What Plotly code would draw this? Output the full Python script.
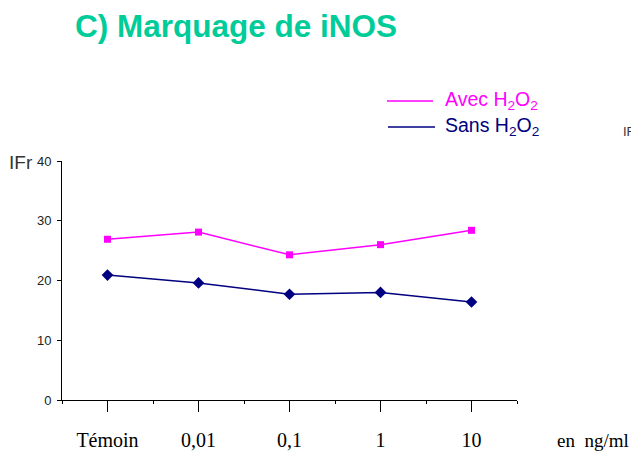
import plotly.graph_objects as go

# Concentrations (category axis) and iNOS immunofluorescence values
categories = ["Témoin", "0,01", "0,1", "1", "10"]
avec_h2o2 = [26.9, 28.1, 24.3, 26.0, 28.4]
sans_h2o2 = [20.9, 19.6, 17.7, 18.0, 16.4]
series_names = ["Avec H<sub>2</sub>O<sub>2</sub>", "Sans H<sub>2</sub>O<sub>2</sub>"]
y_ticks = [0, 10, 20, 30, 40]

MAGENTA = "#FF00FF"
NAVY = "#000080"

W, H = 631, 452
L, R, T, B = 62, 114, 161, 52
PW, PH = W - L - R, H - T - B


def px(x):
    return (x - L) / PW


def py(y):
    return (H - B - y) / PH


xs = list(range(len(categories)))

fig = go.Figure()
fig.add_trace(go.Scatter(
    x=xs, y=avec_h2o2, mode="lines+markers", name=series_names[0],
    line=dict(color=MAGENTA, width=1.5),
    marker=dict(symbol="square", size=7, color=MAGENTA),
    showlegend=False, cliponaxis=False,
))
fig.add_trace(go.Scatter(
    x=xs, y=sans_h2o2, mode="lines+markers", name=series_names[1],
    line=dict(color=NAVY, width=1.5),
    marker=dict(symbol="diamond", size=9, color=NAVY),
    showlegend=False, cliponaxis=False,
))

fig.update_layout(
    width=W, height=H,
    margin=dict(l=L, r=R, t=T, b=B, pad=0, autoexpand=False),
    paper_bgcolor="white", plot_bgcolor="white",
    title=dict(
        text="<b>C) Marquage de iNOS</b>",
        font=dict(family="Arial, Liberation Sans", size=31.5, color="#00CC99"),
        x=75 / W, xanchor="left", xref="container",
        y=1 - 26 / H, yanchor="middle",
    ),
    xaxis=dict(
        range=[-0.5, len(categories) - 0.5],
        tickmode="array", tickvals=xs, ticktext=categories,
        ticks="outside", ticklen=11, tickwidth=1, tickcolor="black",
        showline=True, linecolor="black", linewidth=1,
        showgrid=False, zeroline=False, automargin=False,
        tickfont=dict(family="Liberation Serif, Times New Roman", size=20, color="black"),
        ticklabelstandoff=11,
        minor=dict(tick0=0.5, dtick=1, ticks="outside", ticklen=3,
                   tickwidth=1, tickcolor="black", showgrid=False),
    ),
    yaxis=dict(
        range=[0, 40],
        tickmode="array", tickvals=y_ticks,
        ticks="outside", ticklen=4, tickwidth=1, tickcolor="black",
        showline=True, linecolor="black", linewidth=1,
        showgrid=False, zeroline=False, automargin=False,
        tickfont=dict(family="Arial, Liberation Sans", size=13, color="#222222"),
        ticklabelstandoff=3,
    ),
)

# Legend drawn as line samples with coloured labels
legend_colors = [MAGENTA, NAVY]
legend_rows = [(387, 433, 101), (388, 435, 127)]
for name, color, (x0, x1, yy) in zip(series_names, legend_colors, legend_rows):
    fig.add_shape(type="line", xref="paper", yref="paper",
                  x0=px(x0), x1=px(x1), y0=py(yy), y1=py(yy),
                  line=dict(color=color, width=1.5))
    fig.add_annotation(text=name, xref="paper", yref="paper",
                       x=px(443), y=py(yy - 1), xanchor="left", yanchor="middle",
                       showarrow=False,
                       font=dict(family="Arial, Liberation Sans", size=19.5, color=color))

# Axis captions
fig.add_annotation(text="IFr", xref="paper", yref="paper",
                   x=px(7), y=py(162), xanchor="left", yanchor="middle",
                   showarrow=False,
                   font=dict(family="Arial, Liberation Sans", size=19, color="#333333"))
fig.add_annotation(text="IFr", xref="paper", yref="paper",
                   x=px(621), y=py(131), xanchor="left", yanchor="middle",
                   showarrow=False,
                   font=dict(family="Arial, Liberation Sans", size=13, color="#333333"))
fig.add_annotation(text="en  ng/ml", xref="paper", yref="paper",
                   x=px(555), y=py(440), xanchor="left", yanchor="middle",
                   showarrow=False,
                   font=dict(family="Liberation Serif, Times New Roman", size=19, color="black"))

fig.write_html("out.html")
